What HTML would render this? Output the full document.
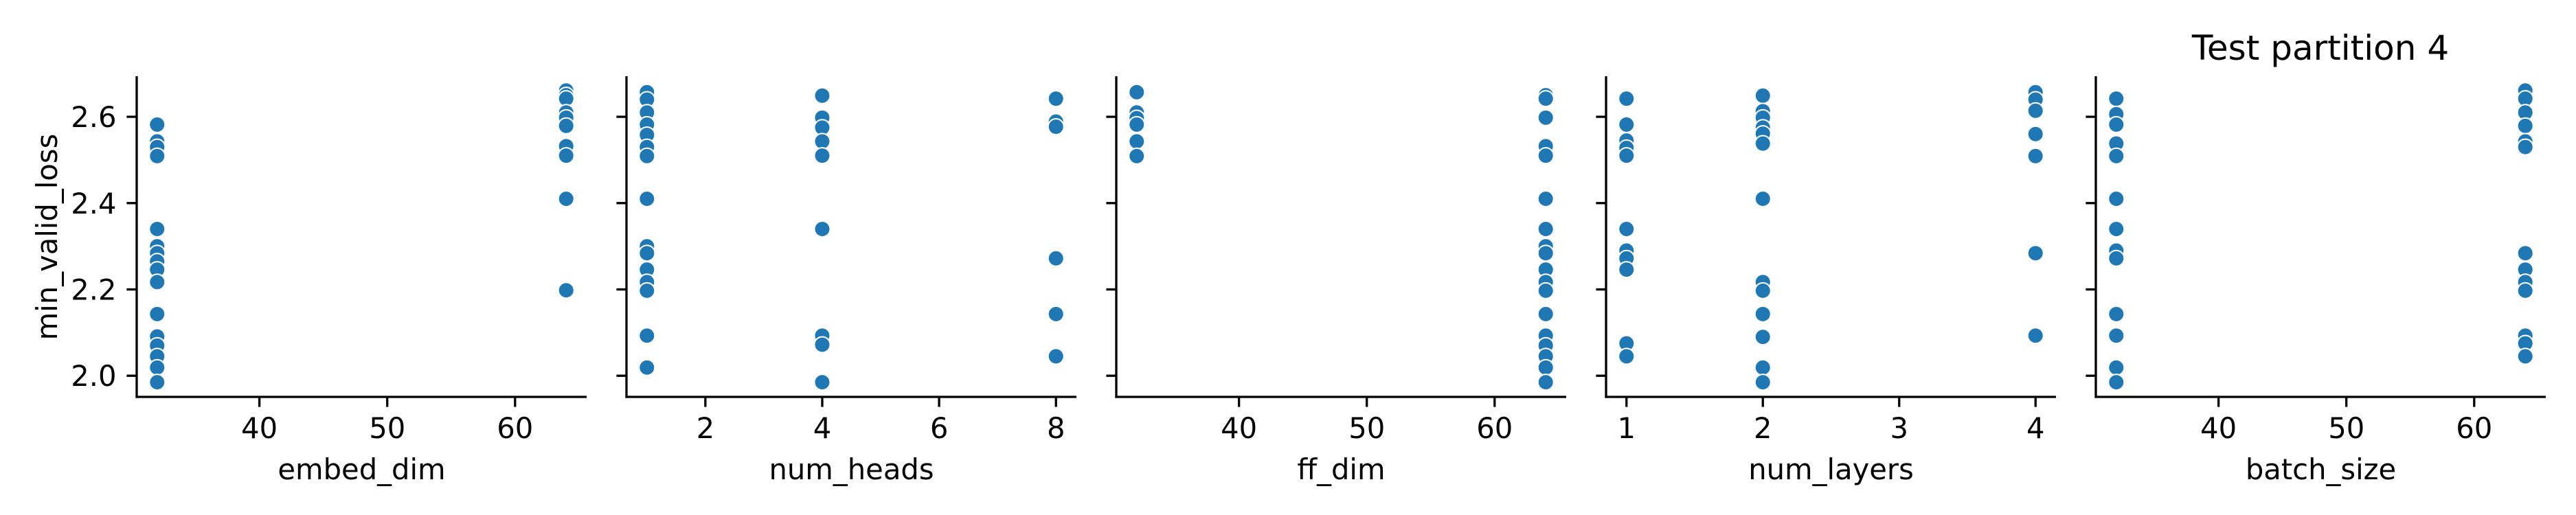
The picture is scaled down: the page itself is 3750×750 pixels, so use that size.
<!DOCTYPE html>
<html><head><meta charset="utf-8">
<style>
html,body{margin:0;padding:0;background:#fff;}
svg{display:block;}
text{font-family:"DejaVu Sans","Liberation Sans",sans-serif;fill:#000;}
</style></head>
<body>
<svg id="chart" width="3750" height="750" viewBox="0 0 3750 750" xmlns="http://www.w3.org/2000/svg">
<text x="3378" y="87" font-size="50" text-anchor="middle">Test partition 4</text>
<text x="0" y="0" font-size="41.7" text-anchor="middle" transform="translate(83,345) rotate(-90)">min_valid_loss</text>
</svg>
<script>
const panelNames = ["embed_dim","num_heads","ff_dim","num_layers","batch_size"];
const yTicks = [2.0, 2.2, 2.4, 2.6];
const yTickLabels = ["2.0","2.2","2.4","2.6"];
const xTicks0 = [40,50,60];
const xTicks1 = [2,4,6,8];
const xTicks2 = [40,50,60];
const xTicks3 = [1,2,3,4];
const xTicks4 = [40,50,60];
const xDomain0 = [30.4,65.6];
const xDomain1 = [0.65,8.35];
const xDomain2 = [30.4,65.6];
const xDomain3 = [0.85,4.15];
const xDomain4 = [30.4,65.6];
const yDomain = [1.951,2.694];

const embedX = [32,32,32,32,32,32,32,32,32,32,32,32,32,32,32,32,64,64,64,64,64,64,64,64,64,64];
const embedY = [2.582,2.543,2.53,2.509,2.34,2.30,2.284,2.265,2.246,2.217,2.143,2.091,2.07,2.045,2.019,1.985,2.661,2.65,2.642,2.61,2.598,2.579,2.532,2.51,2.41,2.198];

const headsX = [1,1,1,1,1,1,1,1,1,1,1,1,1,1,1,4,4,4,4,4,4,4,4,4,8,8,8,8,8,8];
const headsY = [2.657,2.64,2.61,2.582,2.558,2.53,2.509,2.41,2.30,2.284,2.246,2.217,2.197,2.093,2.019,2.649,2.598,2.575,2.543,2.51,2.34,2.093,2.072,1.985,2.642,2.589,2.577,2.272,2.143,2.045];

const ffX = [32,32,32,32,32,32,64,64,64,64,64,64,64,64,64,64,64,64,64,64,64,64,64,64];
const ffY = [2.657,2.61,2.597,2.582,2.543,2.509,2.65,2.642,2.598,2.532,2.51,2.41,2.34,2.30,2.284,2.246,2.217,2.197,2.143,2.093,2.07,2.045,2.019,1.985];

const layersX = [1,1,1,1,1,1,1,1,1,1,1,2,2,2,2,2,2,2,2,2,2,2,2,2,4,4,4,4,4,4,4];
const layersY = [2.642,2.582,2.545,2.528,2.51,2.34,2.29,2.272,2.246,2.075,2.045,2.649,2.613,2.598,2.575,2.561,2.538,2.41,2.217,2.197,2.143,2.09,2.019,1.985,2.657,2.64,2.614,2.56,2.509,2.284,2.093];

const batchX = [32,32,32,32,32,32,32,32,32,32,32,32,32,64,64,64,64,64,64,64,64,64,64,64,64,64];
const batchY = [2.642,2.606,2.582,2.538,2.509,2.41,2.34,2.29,2.272,2.143,2.093,2.019,1.985,2.661,2.642,2.61,2.579,2.543,2.53,2.284,2.246,2.217,2.197,2.093,2.075,2.045];

const allX = [embedX, headsX, ffX, layersX, batchX];
const allY = [embedY, headsY, ffY, layersY, batchY];
const allTicks = [xTicks0, xTicks1, xTicks2, xTicks3, xTicks4];
const allDomains = [xDomain0, xDomain1, xDomain2, xDomain3, xDomain4];

const NS = "http://www.w3.org/2000/svg";
const svg = document.getElementById("chart");
const lefts = [199, 912, 1625, 2338, 3051];
const W = 655, plotTop = 111, plotBottom = 578;
function mk(tag, attrs, parent){ const e=document.createElementNS(NS,tag); for(const k in attrs) e.setAttribute(k,attrs[k]); (parent||svg).appendChild(e); return e; }
function yScale(v){ return plotBottom - (v - yDomain[0])/(yDomain[1]-yDomain[0])*(plotBottom-plotTop); }

for (let p=0;p<5;p++){
  const L = lefts[p];
  const dom = allDomains[p];
  const xScale = v => L + (v-dom[0])/(dom[1]-dom[0])*W;
  const g = mk("g",{});
  
  
  const xs = allX[p], ys = allY[p];
  for (let i=0;i<xs.length;i++){
    const c = mk("circle",{cx:xScale(xs[i]), cy:yScale(ys[i]), r:11.5, fill:"#1f77b4", stroke:"#fff", "stroke-width":2}, g);
    
    
  }
  const ya = mk("line",{x1:L,y1:plotTop,x2:L,y2:plotBottom+1.6,stroke:"#000","stroke-width":3.3}, g);
  
  
  const xa = mk("line",{x1:L-1.6,y1:plotBottom,x2:L+W,y2:plotBottom,stroke:"#000","stroke-width":3.3}, g);
  
  
  for (let i=0;i<yTicks.length;i++){
    const y = yScale(yTicks[i]);
    const t = mk("line",{x1:L-14.6,y1:y,x2:L,y2:y,stroke:"#000","stroke-width":3.3}, g);
    
    
    if (p===0){
      const tl = mk("text",{x:L-29.5,y:y+15,"font-size":41.7,"text-anchor":"end"}, g);
      tl.textContent = yTickLabels[i];
      
      
    }
  }
  const ticks = allTicks[p];
  for (let i=0;i<ticks.length;i++){
    const x = xScale(ticks[i]);
    const t = mk("line",{x1:x,y1:plotBottom,x2:x,y2:plotBottom+14.6,stroke:"#000","stroke-width":3.3}, g);
    
    
    const tl = mk("text",{x:x,y:638,"font-size":41.7,"text-anchor":"middle"}, g);
    tl.textContent = String(ticks[i]);
    
    
  }
  const xl = mk("text",{x:L+W/2,y:698,"font-size":41.7,"text-anchor":"middle"}, g);
  xl.textContent = panelNames[p];
  
  
}
</script>
</body></html>
